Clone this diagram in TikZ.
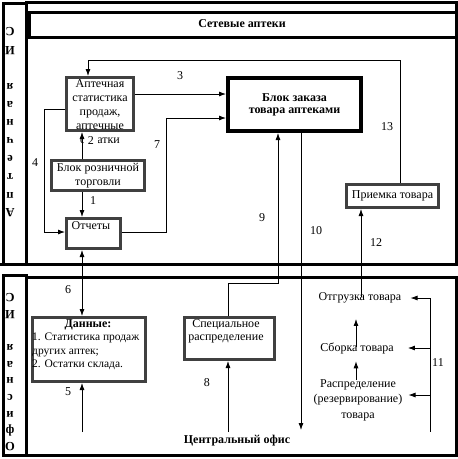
\documentclass[tikz,border=0pt]{standalone}
\usepackage{fontspec}
\setmainfont{Liberation Serif}
\usetikzlibrary{arrows.meta}
\begin{document}
\begin{tikzpicture}[x=1pt,y=-1pt,
  box/.style={draw=black!75, line width=3pt, inner sep=0pt},
  txt/.style={font=\fontsize{12}{14}\selectfont, align=center, inner sep=0pt},
  bold/.style={font=\bfseries\fontsize{12}{12}\selectfont, align=center, inner sep=0pt},
  num/.style={font=\fontsize{12}{12}\selectfont, inner sep=1pt},
  arr/.style={-{Latex[length=7pt,width=5pt]}, line width=0.8pt},
  line/.style={line width=0.8pt},
  frm/.style={line width=3pt},
  vert/.style={font=\bfseries\fontsize{12.5}{12.5}\selectfont, rotate=180, inner sep=0pt}]
\useasboundingbox (0,0) rectangle (458,459);
\draw[frm] (3,3) rectangle (26,264);
\draw[frm] (26,2) rectangle (456,264);
\draw[frm] (29.5,12) rectangle (456,37);
\draw[frm] (3,275) rectangle (26,455);
\draw[frm] (26,277) rectangle (456,455);
\draw[frm] (0,264) -- (458,264);
\node [vert] (a1) at (10,213) {А};
\node [vert] (a2) at (10,194.9) {п};
\node [vert] (a3) at (10,176.8) {т};
\node [vert] (a4) at (10,158.7) {е};
\node [vert] (a5) at (10,140.6) {ч};
\node [vert] (a6) at (10,122.5) {н};
\node [vert] (a7) at (10,104.4) {а};
\node [vert] (a8) at (10,86.3) {я};
\node [vert] (a9) at (10,50.1) {И};
\node [vert] (a10) at (10,32) {С};
\node [vert] (o1) at (10,447) {О};
\node [vert] (o2) at (10,430.4) {ф};
\node [vert] (o3) at (10,413.9) {и};
\node [vert] (o4) at (10,397.3) {с};
\node [vert] (o5) at (10,380.8) {н};
\node [vert] (o6) at (10,364.2) {а};
\node [vert] (o7) at (10,347.7) {я};
\node [vert] (o8) at (10,314.6) {И};
\node [vert] (o9) at (10,298) {С};
\node [bold] (title) at (242,24) {Сетевые аптеки};
\node [box, minimum width=67, minimum height=53] (stat) at (100,104) {};
\node [txt] (stattext) at (100,112) {Аптечная\\статистика\\продаж,\\аптечные\\остатки};
\node [box, bold, draw=black, line width=4pt, minimum width=133, minimum height=53] (order) at (294.5,104.5) {Блок заказа\\товара аптеками};
\node [box, txt, minimum width=93, minimum height=30] (retail) at (98,175.5) {Блок розничной\\торговли};
\node [box, minimum width=54, minimum height=30] (rep) at (93.5,233.5) {};
\node [txt] (reptext) at (91,226) {Отчеты};
\node [box, txt, minimum width=92, minimum height=23] (priem) at (392.5,196) {Приемка товара};
\node [box, minimum width=113, minimum height=64] (data) at (89,349.5) {};
\node [bold] (datatitle) at (88,325) {Данные:};
\node [txt, align=left, anchor=north west, font=\fontsize{11.5}{13.5}\selectfont] (datatext) at (32,333) {1. Статистика продаж\\других аптек;\\2. Остатки склада.};
\node [box, minimum width=90, minimum height=42] (spec) at (229.5,338.5) {};
\node [txt, font=\fontsize{12}{13.5}\selectfont] (spectext) at (226,331.5) {Специальное\\распределение};
\node [txt] (ship) at (360,298) {Отгрузка товара};
\node [txt] (asm) at (357,348) {Сборка товара};
\node [txt, font=\fontsize{12}{15.5}\selectfont] (dist) at (358,400) {Распределение\\(резервирование)\\товара};
\node [bold] (office) at (237,441) {Центральный офис};
\node [num] (n1) at (93,201) {1};
\node [num, fill=white, minimum width=14] (n2) at (91,141) {2};
\node [num] (n3) at (180,76) {3};
\node [num] (n4) at (35,163) {4};
\node [num] (n5) at (68,392) {5};
\node [num] (n6) at (68,290) {6};
\node [num] (n7) at (157,145) {7};
\node [num] (n8) at (207,383) {8};
\node [num] (n9) at (262,218) {9};
\node [num] (n10) at (316,231) {10};
\node [num] (n11) at (438,363) {11};
\node [num] (n12) at (376,243) {12};
\node [num] (n13) at (387,127) {13};
\coordinate (in5) at (82,432);
\coordinate (in8) at (228,432);
\coordinate (out10) at (301,430);
\coordinate (t11) at (430,298);
\coordinate (b11) at (430,432);
\draw[arr] (priem.north -| 400,0) |- (88,60) -- (stat.north -| 88,0);
\draw[arr] (stat.east |- 0,94) -- (order.west |- 0,94);
\draw[arr] (rep.east |- 0,232) -| (166,118) -- (order.west |- 0,118);
\draw[arr] (stat.west |- 0,109) -| (44,232) -- (rep.west |- 0,232);
\draw[arr] (retail.north -| 82,0) -- (stat.south -| 82,0);
\draw[arr] (retail.south -| 82,0) -- (rep.north -| 82,0);
\draw[arr, {Latex[length=7pt,width=5pt]}-{Latex[length=7pt,width=5pt]}] (rep.south -| 82,0) -- (data.north -| 82,0);
\draw[arr] (in5) -- (data.south -| in5);
\draw[arr] (in8) -- (spec.south -| in8);
\draw[arr] (spec.north -| 228,0) |- (278,283) -- (order.south -| 278,0);
\draw[arr] (order.south -| out10) -- (out10);
\draw[arr, shorten <=-4.5pt] (ship.north -| 361,0) -- (priem.south -| 361,0);
\draw[arr, shorten <=-4.5pt, shorten >=15.5pt] (asm.north -| 356,0) -- (ship.south -| 356,0);
\draw[arr, shorten <=-1pt, shorten >=7.5pt] (dist.north -| 356,0) -- (asm.south -| 356,0);
\draw[line] (t11) -- (b11);
\draw[arr, shorten >=9pt] (t11) -- (ship.east);
\draw[arr, shorten >=14pt] (b11 |- asm) -- (asm.east);
\draw[arr, shorten >=6pt] (b11 |- 0,395) -- (dist.east |- 0,395);
\end{tikzpicture}
\end{document}
